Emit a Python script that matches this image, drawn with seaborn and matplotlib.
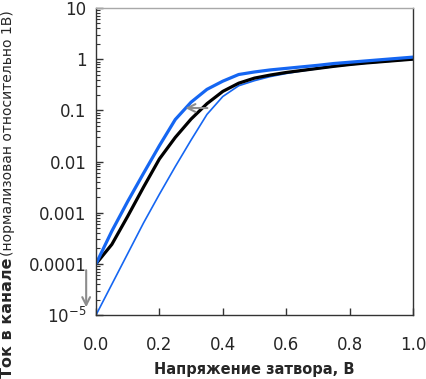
import numpy as np
import pandas as pd
import matplotlib
matplotlib.use("Agg")
import matplotlib.pyplot as plt
from matplotlib.ticker import LogLocator, FixedLocator, FixedFormatter, NullFormatter
import seaborn as sns

# Напряжение затвора, В
voltage = [0.0, 0.05, 0.1, 0.15, 0.2, 0.25, 0.3, 0.35, 0.4, 0.45, 0.5,
           0.55, 0.6, 0.65, 0.7, 0.75, 0.8, 0.85, 0.9, 0.95, 1.0]

# log10 тока
log_thick_blue = [-4.0, -3.36, -2.78, -2.23, -1.69, -1.18, -0.84, -0.59, -0.43, -0.30, -0.25,
                  -0.21, -0.18, -0.15, -0.12, -0.085, -0.06, -0.035, -0.01, 0.015, 0.04]
log_black = [-4.0, -3.62, -3.07, -2.50, -1.95, -1.53, -1.17, -0.87, -0.63, -0.47, -0.37,
             -0.31, -0.26, -0.22, -0.18, -0.14, -0.105, -0.075, -0.05, -0.025, 0.0]
log_thin_blue = [-5.0, -4.40, -3.80, -3.20, -2.64, -2.10, -1.58, -1.08, -0.73, -0.52, -0.42,
                 -0.34, -0.28, -0.23, -0.185, -0.145, -0.11, -0.08, -0.055, -0.03, -0.005]

y_ticks = [1e-5, 1e-4, 1e-3, 1e-2, 1e-1, 1, 10]
y_tick_labels = [r"$10^{-5}$", "0.0001", "0.001", "0.01", "0.1", "1", "10"]
x_ticks = [0.0, 0.2, 0.4, 0.6, 0.8, 1.0]
x_tick_labels = ["0.0", "0.2", "0.4", "0.6", "0.8", "1.0"]

df = pd.DataFrame({
    "v": voltage,
    "thick": np.power(10.0, log_thick_blue),
    "black": np.power(10.0, log_black),
    "thin": np.power(10.0, log_thin_blue),
})

sns.set_theme(style="white")
plt.rcParams["font.family"] = ["DejaVu Sans"]
plt.rcParams["mathtext.fontset"] = "dejavusans"

blue = "#1566f2"
fig = plt.figure(figsize=(4.27, 3.79), dpi=100)
ax = fig.add_axes([96 / 427, 64 / 379, 317 / 427, 307 / 379])

sns.lineplot(data=df, x="v", y="thin", color=blue, linewidth=1.2, ax=ax)
sns.lineplot(data=df, x="v", y="black", color="black", linewidth=2.3, ax=ax)
sns.lineplot(data=df, x="v", y="thick", color=blue, linewidth=2.3, ax=ax)

ax.set_yscale("log")
ax.set_xlim(0, 1)
ax.set_ylim(1e-5, 10)

ax.yaxis.set_major_locator(FixedLocator(y_ticks))
ax.yaxis.set_major_formatter(FixedFormatter(y_tick_labels))
ax.yaxis.set_minor_locator(LogLocator(base=10, subs=np.arange(2, 10)))
ax.yaxis.set_minor_formatter(NullFormatter())
ax.xaxis.set_major_locator(FixedLocator(x_ticks))
ax.xaxis.set_major_formatter(FixedFormatter(x_tick_labels))

ax.tick_params(axis="y", which="major", direction="in", length=5, width=1,
               color="#333333", labelsize=12, pad=7, left=True)
ax.tick_params(axis="y", which="minor", direction="in", length=3, width=0.8,
               color="#333333", left=True)
ax.tick_params(axis="x", which="major", direction="in", length=5, width=1,
               color="#333333", labelsize=12, pad=15, bottom=True)

for side in ["left", "bottom", "right"]:
    ax.spines[side].set_color("#333333")
    ax.spines[side].set_linewidth(1.0)
ax.spines["top"].set_color("#a8a8a8")
ax.spines["top"].set_linewidth(1.0)

ax.set_xlabel("")
ax.set_ylabel("")

grey = "#8c8c8c"
ax.annotate("", xy=(0.273, 0.111), xytext=(0.36, 0.111),
            arrowprops=dict(arrowstyle="->", color=grey, lw=1.5, mutation_scale=14))
ax.annotate("", xy=(-0.031, 1.25e-5), xytext=(-0.031, 8.5e-5),
            arrowprops=dict(arrowstyle="->", color=grey, lw=1.5, mutation_scale=14),
            annotation_clip=False)

fig.text(254 / 427, 2 / 379, "Напряжение затвора, В", ha="center", va="bottom",
         fontsize=10.5, fontweight="bold")
fig.text(8 / 427, 1 / 379, "Ток в канале", rotation=90, ha="center", va="bottom",
         fontsize=11.5, fontweight="bold")
fig.text(8 / 427, 123 / 379, "(нормализован относительно 1В)", rotation=90,
         ha="center", va="bottom", fontsize=10)

fig.savefig("out.png", dpi=100)
plt.close(fig)
